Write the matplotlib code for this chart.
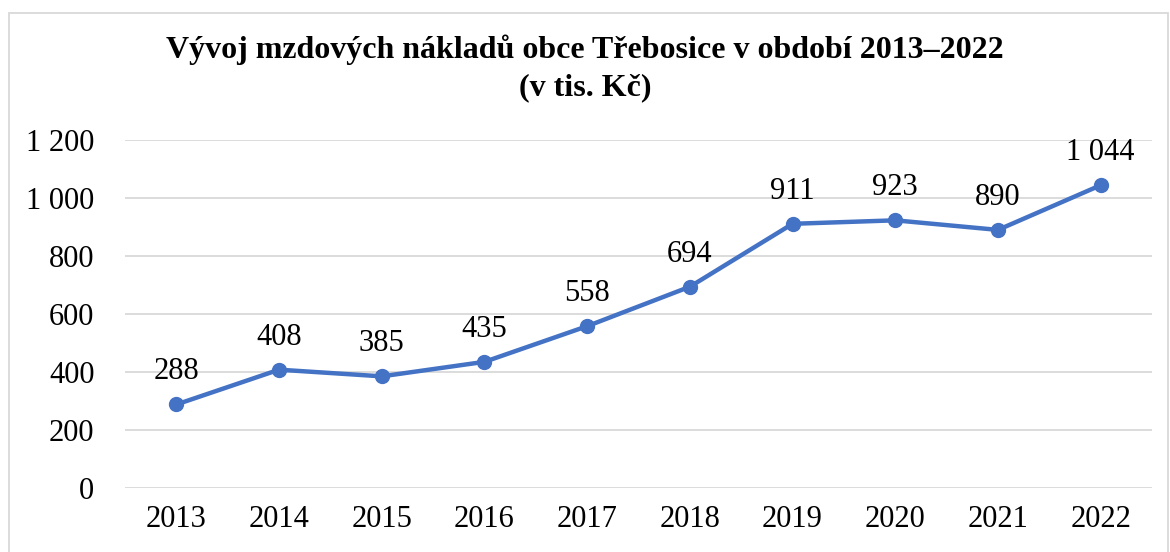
import matplotlib.pyplot as plt
from matplotlib.patches import Rectangle

years = ['2013', '2014', '2015', '2016', '2017', '2018', '2019', '2020', '2021', '2022']
costs = [288, 408, 385, 435, 558, 694, 911, 923, 890, 1044]
y_ticks = [0, 200, 400, 600, 800, 1000, 1200]


def fmt(v):
    return f"{v:,}".replace(",", " ")


plt.rcParams['font.family'] = ['Liberation Serif', 'DejaVu Serif']

fig = plt.figure(figsize=(11.7, 5.52), dpi=100)
ax = fig.add_axes([125 / 1170, 1 - 488 / 552, (1152 - 125) / 1170, (488 - 140) / 552])

x = list(range(len(years)))
ax.plot(x, costs, color='#4472C4', linewidth=3.2, marker='o', markersize=10,
        solid_capstyle='round')

for xi, v in zip(x, costs):
    ax.annotate(fmt(v), (xi, v), xytext=(0, 13), textcoords='offset points',
                ha='center', va='bottom', fontsize=22)

ax.set_xlim(-0.5, len(years) - 0.5)
ax.set_ylim(0, 1200)
ax.set_yticks(y_ticks)
ax.set_yticklabels([fmt(t) for t in y_ticks])
ax.set_xticks(x)
ax.set_xticklabels(years)
ax.tick_params(axis='both', length=0, labelsize=22)
ax.tick_params(axis='y', pad=22)
ax.tick_params(axis='x', pad=12)
ax.grid(axis='y', color='#d9d9d9', linewidth=1.3)
ax.set_axisbelow(True)
for s in ax.spines.values():
    s.set_visible(False)

fig.text(0.5, 1 - 50 / 552, "Vývoj mzdových nákladů obce Třebosice v období 2013–2022",
         ha='center', va='center', fontsize=23, fontweight='bold')
fig.text(0.5, 1 - 88 / 552, "(v tis. Kč)", ha='center', va='center',
         fontsize=23, fontweight='bold')

fig.patches.append(Rectangle((9 / 1170, -0.05), (1168 - 9) / 1170, 1.05 - 13 / 552,
                             transform=fig.transFigure, fill=False,
                             edgecolor='#d9d9d9', linewidth=1.3))

fig.savefig('out.png', dpi=100)
